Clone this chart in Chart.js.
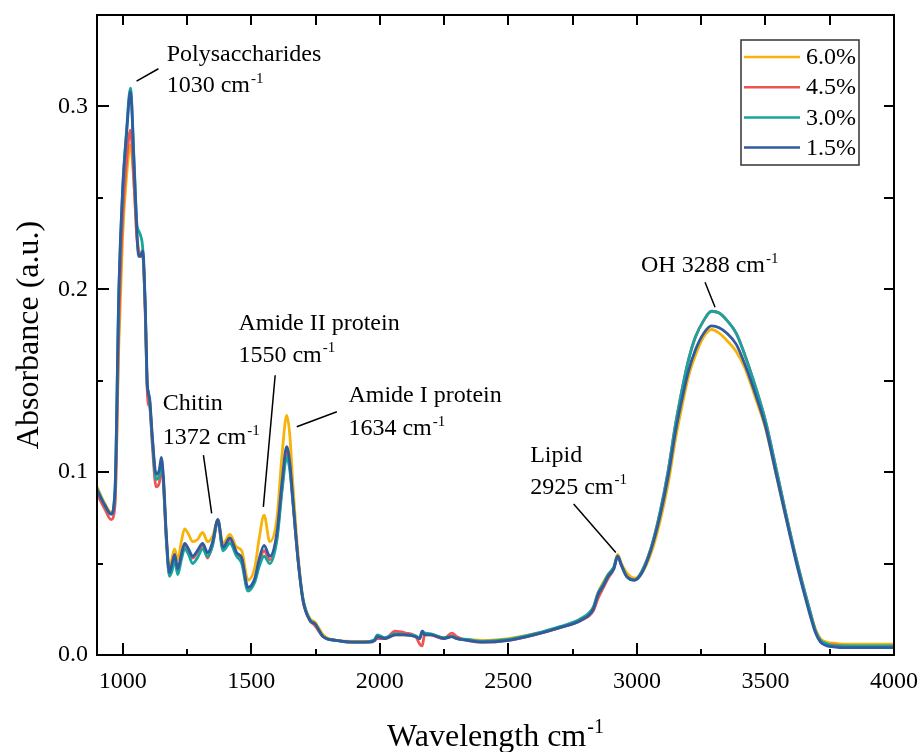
<!DOCTYPE html>
<html>
<head>
<meta charset="utf-8">
<script src="https://cdn.jsdelivr.net/npm/chart.js@4.4.0/dist/chart.umd.min.js"></script>
<style>
  html, body { margin: 0; padding: 0; background: #fff; }
</style>
</head>
<body>
<canvas id="ftirChart" width="924" height="752"></canvas>
<script>
// wavenumber axis (cm-1), shared by all four spectra
const wavenumbers = [
  900, 930, 955, 970, 985, 1000, 1015, 1030, 1045, 1055,
  1062, 1068, 1078, 1088, 1095, 1100, 1105, 1115, 1130, 1142,
  1150, 1158, 1170, 1182, 1192, 1202, 1214, 1228, 1241, 1256,
  1272, 1290, 1311, 1330, 1350, 1370, 1390, 1417, 1443, 1463,
  1487, 1514, 1530, 1550, 1572, 1600, 1620, 1638, 1650, 1662,
  1682, 1701, 1728, 1748, 1780, 1830, 1900, 1960, 1980, 1990,
  2020, 2060, 2100, 2140, 2155, 2165, 2175, 2200, 2250, 2280,
  2300, 2340, 2400, 2500, 2600, 2700, 2783, 2830, 2849, 2870,
  2888, 2910, 2925, 2940, 2960, 2991, 3020, 3056, 3090, 3122,
  3150, 3174, 3200, 3228, 3260, 3290, 3320, 3350, 3386, 3420,
  3465, 3500, 3543, 3580, 3621, 3650, 3675, 3695, 3714, 3740,
  3765, 3800, 3900, 4000
];

const abs60 = [
  .092, .083, .078, .085, .170, .230, .262, .279, .255, .230,
  .222, .220, .219, .187, .148, .142, .139, .119, .097, .099,
  .106, .097, .064, .046, .053, .058, .052, .062, .069, .066,
  .062, .063, .067, .062, .065, .074, .061, .066, .059, .057,
  .041, .048, .063, .0765, .062, .075, .110, .131, .120, .093,
  .055, .031, .020, .018, .011, .008, .0075, .0075, .008, .0095,
  .009, .011, .011, .010, .009, .012, .011, .011, .0095, .010,
  .009, .0085, .008, .009, .0115, .015, .020, .026, .034, .040,
  .044, .048, .055, .050, .045, .042, .045, .056, .073, .094,
  .118, .135, .152, .164, .174, .178, .176, .172, .166, .157,
  .139, .124, .098, .075, .051, .035, .023, .014, .009, .007,
  .0065, .006, .006, .006
];

const abs45 = [
  .088, .080, .074, .082, .180, .240, .270, .287, .255, .228,
  .220, .218, .218, .185, .146, .137, .136, .115, .092, .094,
  .103, .094, .062, .044, .049, .054, .046, .054, .060, .057,
  .053, .056, .060, .053, .061, .073, .058, .063, .055, .052,
  .036, .041, .050, .057, .052, .065, .092, .111, .103, .084,
  .052, .030, .019, .016, .010, .008, .007, .007, .008, .009,
  .009, .013, .012, .010, .006, .005, .012, .011, .009, .012,
  .010, .008, .007, .008, .011, .015, .019, .024, .031, .037,
  .042, .047, .054, .049, .043, .041, .046, .059, .078, .101,
  .126, .144, .161, .174, .183, .188, .187, .183, .176, .164,
  .145, .128, .101, .077, .052, .036, .023, .013, .008, .006,
  .0055, .005, .0045, .0045
];

const abs30 = [
  .091, .082, .077, .090, .198, .255, .287, .310, .268, .236,
  .232, .230, .222, .188, .148, .144, .138, .118, .096, .098,
  .104, .095, .062, .043, .046, .052, .044, .052, .058, .055,
  .050, .053, .058, .054, .060, .074, .057, .061, .054, .050,
  .035, .040, .048, .054, .050, .063, .090, .108, .101, .083,
  .052, .031, .019, .017, .010, .008, .007, .0075, .0085, .011,
  .0095, .0115, .011, .0105, .009, .013, .012, .0115, .0095, .010,
  .009, .0085, .0075, .0085, .0115, .0155, .020, .026, .034, .039,
  .044, .048, .054, .049, .043, .041, .046, .059, .078, .101,
  .126, .144, .161, .174, .183, .188, .187, .183, .176, .164,
  .145, .128, .101, .077, .052, .036, .023, .013, .008, .006,
  .005, .005, .005, .005
];

const abs15 = [
  .090, .082, .077, .090, .200, .255, .285, .308, .265, .232,
  .218, .218, .221, .190, .150, .143, .140, .120, .099, .101,
  .108, .098, .065, .045, .050, .055, .047, .055, .061, .058,
  .054, .057, .061, .056, .062, .074, .059, .064, .056, .053,
  .037, .042, .052, .060, .054, .067, .095, .114, .105, .085,
  .052, .030, .019, .017, .010, .008, .007, .007, .008, .010,
  .009, .011, .011, .010, .009, .013, .011, .011, .009, .010,
  .009, .008, .007, .008, .011, .015, .019, .025, .033, .038,
  .043, .047, .054, .049, .043, .041, .045, .058, .076, .098,
  .122, .139, .155, .167, .176, .180, .179, .176, .170, .159,
  .141, .125, .098, .075, .050, .034, .021, .012, .007, .005,
  .0045, .004, .004, .004
];

const seriesLabels = ['6.0%', '4.5%', '3.0%', '1.5%'];
const seriesValues = [abs60, abs45, abs30, abs15];
const seriesColors = ['#F7B30A', '#EE5452', '#17A59E', '#2F5C9F'];

const xTickValues = [1000, 1500, 2000, 2500, 3000, 3500, 4000];
const xMinorValues = [1250, 1750, 2250, 2750, 3250, 3750];
const yTickValues = [0, 0.1, 0.2, 0.3];
const yMinorValues = [0.05, 0.15, 0.25];

// peak labels: text anchor and leader line, in data units
const peakNotes = [
  { lines: [['Polysaccharides', ''], ['1030 cm', '-1']], at: [1171, 0.3251], gap: 0.0173, from: [1054, 0.3138], to: [1139, 0.3206] },
  { lines: [['Chitin', ''], ['1372 cm', '-1']], at: [1156, 0.1339], gap: 0.0186, from: [1314, 0.1093], to: [1346, 0.0774] },
  { lines: [['Amide II protein', ''], ['1550 cm', '-1']], at: [1450, 0.1776], gap: 0.0173, from: [1593, 0.153], to: [1547, 0.081] },
  { lines: [['Amide I protein', ''], ['1634 cm', '-1']], at: [1878, 0.1384], gap: 0.0182, from: [1677, 0.1248], to: [1833, 0.1330] },
  { lines: [['Lipid', ''], ['2925 cm', '-1']], at: [2585, 0.1056], gap: 0.0173, from: [2754, 0.0826], to: [2918, 0.056] },
  { lines: [['OH 3288 cm', '-1']], at: [3016, 0.2093], gap: 0, from: [3265, 0.2038], to: [3304, 0.1902] }
];

const SERIF = '"Liberation Serif", "Times New Roman", serif';

function drawSup(ctx, x, y, base, sup, size) {
  ctx.font = size + 'px ' + SERIF;
  ctx.fillText(base, x, y);
  if (!sup) return;
  const w = ctx.measureText(base).width;
  ctx.font = Math.round(size * 0.62) + 'px ' + SERIF;
  ctx.fillText(sup, x + w + 1, y - size * 0.4);
}

function supWidth(ctx, base, sup, size) {
  ctx.font = size + 'px ' + SERIF;
  let w = ctx.measureText(base).width;
  ctx.font = Math.round(size * 0.62) + 'px ' + SERIF;
  return w + 1 + ctx.measureText(sup).width;
}

const framePlugin = {
  id: 'frame',
  afterDraw(chart) {
    const ctx = chart.ctx;
    const a = chart.chartArea;
    const xs = chart.scales.x, ys = chart.scales.y;
    ctx.save();

    // box
    ctx.strokeStyle = '#000';
    ctx.lineWidth = 2;
    ctx.strokeRect(a.left, a.top, a.right - a.left, a.bottom - a.top);

    // inward ticks
    ctx.lineWidth = 2;
    ctx.beginPath();
    xTickValues.concat(xMinorValues).forEach(v => {
      const px = Math.round(xs.getPixelForValue(v));
      const major = xTickValues.includes(v);
      ctx.moveTo(px, a.bottom); ctx.lineTo(px, a.bottom - (major ? 12 : 6));
      ctx.moveTo(px, a.top); ctx.lineTo(px, a.top + 10);
    });
    yTickValues.concat(yMinorValues).forEach(v => {
      const py = Math.round(ys.getPixelForValue(v));
      const major = yTickValues.includes(v);
      ctx.moveTo(a.left, py); ctx.lineTo(a.left + (major ? 12 : 6), py);
      ctx.moveTo(a.right, py); ctx.lineTo(a.right - 10, py);
    });
    ctx.stroke();

    // annotations
    ctx.fillStyle = '#000';
    ctx.textAlign = 'left';
    ctx.textBaseline = 'alphabetic';
    ctx.lineWidth = 1.5;
    peakNotes.forEach(n => {
      const tx = xs.getPixelForValue(n.at[0]);
      const ty = ys.getPixelForValue(n.at[1]);
      const gapPx = ys.getPixelForValue(0) - ys.getPixelForValue(n.gap);
      n.lines.forEach((ln, i) => drawSup(ctx, tx, ty + i * gapPx, ln[0], ln[1], 24));
      ctx.beginPath();
      ctx.moveTo(xs.getPixelForValue(n.from[0]), ys.getPixelForValue(n.from[1]));
      ctx.lineTo(xs.getPixelForValue(n.to[0]), ys.getPixelForValue(n.to[1]));
      ctx.stroke();
    });

    // legend
    ctx.lineWidth = 1.5;
    ctx.strokeStyle = '#333';
    ctx.strokeRect(741, 40, 118, 125);
    ctx.textBaseline = 'middle';
    ctx.font = '24px ' + SERIF;
    seriesLabels.forEach((lab, i) => {
      const ly = 57 + i * 30.2;
      ctx.strokeStyle = seriesColors[i];
      ctx.lineWidth = 2.5;
      ctx.beginPath();
      ctx.moveTo(744, ly); ctx.lineTo(800, ly);
      ctx.stroke();
      ctx.fillText(lab, 806, ly + 1);
    });

    // axis titles
    ctx.textBaseline = 'alphabetic';
    const tw = supWidth(ctx, 'Wavelength cm', '-1', 32);
    drawSup(ctx, (a.left + a.right) / 2 - tw / 2, 746, 'Wavelength cm', '-1', 32);

    ctx.translate(30, (a.top + a.bottom) / 2);
    ctx.rotate(-Math.PI / 2);
    ctx.textAlign = 'center';
    ctx.textBaseline = 'middle';
    ctx.font = '32px ' + SERIF;
    ctx.fillText('Absorbance (a.u.)', 0, 0);

    ctx.restore();
  }
};

// blue (last) drawn on top, yellow at the bottom
const datasets = seriesLabels.map((lab, i) => ({
  label: lab,
  data: wavenumbers.map((w, j) => ({ x: w, y: seriesValues[i][j] })),
  borderColor: seriesColors[i],
  borderWidth: 2.8,
  pointRadius: 0,
  fill: false,
  order: seriesLabels.length - i,
  cubicInterpolationMode: 'monotone'
}));

const tickFont = { family: SERIF, size: 24 };

new Chart(document.getElementById('ftirChart'), {
  type: 'line',
  data: { datasets: datasets },
  options: {
    responsive: false,
    animation: false,
    layout: { padding: { top: 15, right: 30, left: 0, bottom: 0 } },
    plugins: { legend: { display: false }, tooltip: { enabled: false } },
    scales: {
      x: {
        type: 'linear',
        min: 900,
        max: 4000,
        grid: { display: false, drawTicks: false },
        border: { display: false },
        afterBuildTicks: s => { s.ticks = xTickValues.map(v => ({ value: v })); },
        afterFit: s => { s.height = 97; s.paddingLeft = 0; s.paddingRight = 0; },
        ticks: { font: tickFont, color: '#000', padding: 12, maxRotation: 0, autoSkip: false, callback: v => String(v) }
      },
      y: {
        min: 0,
        max: 0.35,
        grid: { display: false, drawTicks: false },
        border: { display: false },
        afterBuildTicks: s => { s.ticks = yTickValues.map(v => ({ value: v })); },
        afterFit: s => { s.width = 97; s.paddingTop = 0; s.paddingBottom = 0; },
        ticks: { font: tickFont, color: '#000', padding: 9, callback: v => v.toFixed(1) }
      }
    }
  },
  plugins: [framePlugin]
});
</script>
</body>
</html>
